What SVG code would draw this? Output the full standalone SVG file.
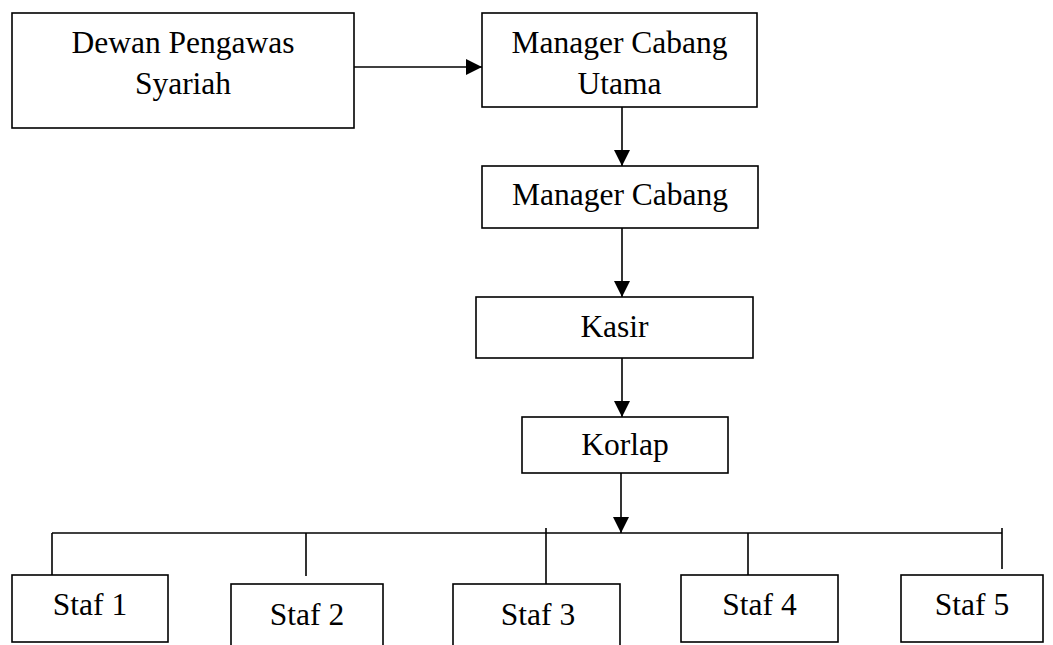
<svg xmlns="http://www.w3.org/2000/svg" width="1053" height="645" viewBox="0 0 1053 645">
<style>
.box{fill:#fff;stroke:#000;stroke-width:1.6}
.t{font-family:"Liberation Serif","Times New Roman",serif;font-size:31.5px;fill:#000;text-anchor:middle}
.ln{stroke:#000;stroke-width:1.6;fill:none}
</style>
<defs>
<marker id="ah" viewBox="0 0 16 16" refX="16" refY="8" markerWidth="16" markerHeight="16" markerUnits="userSpaceOnUse" orient="auto">
<path d="M0,0 L16,8 L0,16 Z" fill="#000"/>
</marker>
</defs>
<rect width="1053" height="645" fill="#fff"/>
<g id="connectors">
<line class="ln" x1="354" y1="67" x2="482" y2="67" marker-end="url(#ah)"/>
<line class="ln" x1="622" y1="107" x2="622" y2="166" marker-end="url(#ah)"/>
<line class="ln" x1="622" y1="228" x2="622" y2="297" marker-end="url(#ah)"/>
<line class="ln" x1="622" y1="358" x2="622" y2="417" marker-end="url(#ah)"/>
<line class="ln" x1="621" y1="473" x2="621" y2="533" marker-end="url(#ah)"/>
<line class="ln" x1="52" y1="533" x2="1002" y2="533"/>
<line class="ln" x1="52" y1="533" x2="52" y2="575"/>
<line class="ln" x1="306" y1="533" x2="306" y2="576"/>
<line class="ln" x1="546" y1="528" x2="546" y2="584"/>
<line class="ln" x1="748" y1="533" x2="748" y2="575"/>
<line class="ln" x1="1002" y1="528" x2="1002" y2="569"/>
</g>
<g id="dewan">
<rect class="box" x="12" y="13" width="342" height="115"/>
<text class="t" x="183" y="53">Dewan Pengawas</text>
<text class="t" x="183" y="94">Syariah</text>
</g>
<g id="manager-utama">
<rect class="box" x="482" y="13" width="275" height="94"/>
<text class="t" x="619.5" y="53">Manager Cabang</text>
<text class="t" x="619.5" y="94">Utama</text>
</g>
<g id="manager-cabang">
<rect class="box" x="482" y="166" width="276" height="62"/>
<text class="t" x="620" y="205">Manager Cabang</text>
</g>
<g id="kasir">
<rect class="box" x="476" y="297" width="277" height="61"/>
<text class="t" x="614.5" y="337">Kasir</text>
</g>
<g id="korlap">
<rect class="box" x="522" y="417" width="206" height="56"/>
<text class="t" x="625" y="455">Korlap</text>
</g>
<g id="staf1">
<rect class="box" x="12" y="575" width="156" height="67"/>
<text class="t" x="90" y="615">Staf 1</text>
</g>
<g id="staf2">
<rect class="box" x="231" y="584" width="152" height="70"/>
<text class="t" x="307" y="625">Staf 2</text>
</g>
<g id="staf3">
<rect class="box" x="453" y="584" width="167" height="70"/>
<text class="t" x="538" y="625">Staf 3</text>
</g>
<g id="staf4">
<rect class="box" x="681" y="575" width="157" height="67"/>
<text class="t" x="759.5" y="615">Staf 4</text>
</g>
<g id="staf5">
<rect class="box" x="901" y="575" width="142" height="67"/>
<text class="t" x="972" y="615">Staf 5</text>
</g>
</svg>
